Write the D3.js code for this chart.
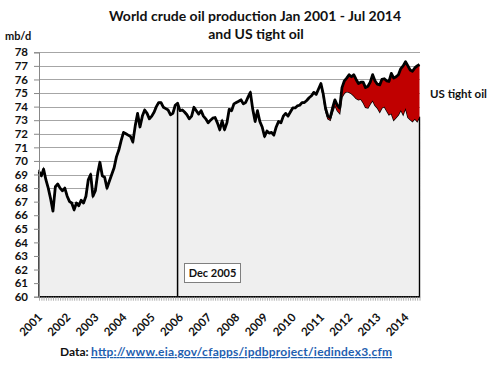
<!DOCTYPE html>
<html>
<head>
<meta charset="utf-8">
<script src="https://cdn.jsdelivr.net/npm/d3@7"></script>
<style>
  body { margin: 0; background: #fff; }
  text { font-family: Lato, "Open Sans", sans-serif; font-weight: bold; fill: #111; }
</style>
</head>
<body>
<div id="chart"></div>
<script>
// world crude oil production, mb/d, monthly Jan 2001 .. Jul 2014
var worldOil = [
  69.2, 68.9, 69.4, 68.6, 68.0, 67.2, 66.3, 68.1, 68.3, 68.0, 67.8, 68.0,
  67.4, 67.0, 66.9, 66.4, 66.9, 66.7, 67.1, 66.9, 67.4, 68.6, 69.0, 67.4,
  67.8, 69.1, 69.9, 68.9, 68.8, 68.0, 68.5, 69.0, 69.5, 70.3, 70.8, 71.5,
  72.1, 72.0, 71.9, 71.8, 71.4, 72.6, 73.5, 72.5, 73.3, 73.75, 73.5, 73.1,
  73.3, 73.6, 74.0, 74.3, 74.3, 73.95, 73.85, 73.75, 73.4, 73.5, 74.1, 74.25,
  73.7, 73.75, 73.6, 73.4, 73.1, 73.3, 73.95, 73.7, 73.45, 73.7, 73.3, 73.1,
  72.8, 73.0, 73.15, 73.2, 72.8, 72.3, 72.95, 72.3, 72.8, 73.8, 73.7, 74.2,
  74.3, 74.4, 74.5, 74.2, 74.3, 74.7, 75.05, 73.8, 72.9, 73.7, 72.9, 72.5,
  71.8, 72.2, 72.05, 72.1, 71.9, 72.5, 72.9, 72.8, 73.3, 73.5, 73.3, 73.6,
  73.9, 73.9, 74.05, 74.1, 74.3, 74.3, 74.45, 74.65, 74.8, 75.05, 74.9, 75.3,
  75.7, 74.9, 73.9, 73.3, 73.2, 73.9, 74.5, 74.1, 73.9, 75.4, 75.9, 76.1,
  76.35, 76.2, 76.35, 76.0, 75.7, 75.8, 75.8, 75.4, 75.5, 75.8, 76.35, 75.9,
  75.65, 75.6, 76.0, 76.05, 75.9, 75.85, 76.45, 76.1, 76.2, 76.35, 76.8, 77.0,
  77.3, 77.0, 76.7, 76.6, 76.85, 77.0, 77.1
];

// US tight oil, mb/d, monthly Jan 2011 .. Jul 2014
var tightOil = [
  0.1, 0.15, 0.2, 0.2, 0.2, 0.3, 0.4, 0.4, 0.4, 0.7, 0.9, 1.0,
  1.3, 1.25, 1.55, 1.4, 1.2, 1.25, 1.5, 1.45, 1.6, 1.6, 1.9, 1.8,
  1.75, 2.0, 2.1, 2.05, 2.2, 2.45, 2.95, 3.1, 3.0, 2.95, 3.05, 3.6,
  3.4, 3.8, 3.65, 3.7, 3.75, 4.1, 3.85
];

var yTicks = [60, 61, 62, 63, 64, 65, 66, 67, 68, 69, 70, 71, 72, 73, 74, 75, 76, 77, 78];
var yearLabels = ["2001", "2002", "2003", "2004", "2005", "2006", "2007",
                  "2008", "2009", "2010", "2011", "2012", "2013", "2014"];
var markerLabel = "Dec 2005";

var W = 500, H = 369;
var svg = d3.select("#chart").append("svg")
    .attr("width", W)
    .attr("height", H);

var months = d3.timeMonth.range(new Date(2001, 0, 1), new Date(2014, 7, 1));
var tightStart = new Date(2011, 0, 1);
var data = months.map(function (d, i) {
    var k = d3.timeMonth.count(tightStart, d);
    var t = (k >= 0 && k < tightOil.length) ? tightOil[k] : 0;
    return { date: d, total: worldOil[i], tight: t, lower: worldOil[i] - t };
});

var x = d3.scaleTime()
    .domain([months[0], months[months.length - 1]])
    .range([39, 419.5]);

var y = d3.scaleLinear()
    .domain([60, 78])
    .range([296.7, 52.3]);

// gridlines
svg.append("g")
    .selectAll("line")
    .data(yTicks)
    .enter()
    .append("line")
    .attr("x1", 39)
    .attr("x2", 420)
    .attr("y1", function (d) { return Math.round(y(d)) + 0.5; })
    .attr("y2", function (d) { return Math.round(y(d)) + 0.5; })
    .attr("stroke", "#a6a6a6")
    .attr("stroke-width", 1);

// world minus tight oil
var lowerArea = d3.area()
    .x(function (d) { return x(d.date); })
    .y0(y(60))
    .y1(function (d) { return y(d.lower); });

svg.append("path")
    .datum(data)
    .attr("d", lowerArea)
    .attr("fill", "#efefef")
    .attr("stroke", "#000")
    .attr("stroke-width", 1.4);

// tight oil band
var tightData = data.filter(function (d) { return d.date >= tightStart; });
var tightArea = d3.area()
    .x(function (d) { return x(d.date); })
    .y0(function (d) { return y(d.lower); })
    .y1(function (d) { return y(d.total); });

svg.append("path")
    .datum(tightData)
    .attr("d", tightArea)
    .attr("fill", "#c00000");

// total line
var totalLine = d3.line()
    .x(function (d) { return x(d.date); })
    .y(function (d) { return y(d.total); });

svg.append("path")
    .datum(data)
    .attr("d", totalLine)
    .attr("fill", "none")
    .attr("stroke", "#000")
    .attr("stroke-width", 2.8)
    .attr("stroke-linejoin", "round");

// Dec 2005 marker
var markDate = new Date(2005, 11, 1);
var markRow = data.find(function (d) { return +d.date === +markDate; });
svg.append("line")
    .attr("x1", x(markDate))
    .attr("x2", x(markDate))
    .attr("y1", y(markRow.total))
    .attr("y2", y(60))
    .attr("stroke", "#000")
    .attr("stroke-width", 1.5);

svg.append("rect")
    .attr("x", 184.5)
    .attr("y", 263.5)
    .attr("width", 56)
    .attr("height", 19)
    .attr("fill", "#fff")
    .attr("stroke", "#7f7f7f");

svg.append("text")
    .attr("x", 212.5)
    .attr("y", 277)
    .attr("text-anchor", "middle")
    .style("font-size", "11px")
    .text(markerLabel);

// y axis
var yAxis = svg.append("g")
    .attr("transform", "translate(39,0)")
    .call(d3.axisLeft(y).tickValues(yTicks).tickSize(5).tickPadding(6).tickFormat(d3.format("d")));
yAxis.select(".domain").attr("stroke", "#888");
yAxis.selectAll(".tick line").attr("stroke", "#888");
yAxis.selectAll("text")
    .style("font-size", "11.5px")
    .style("font-family", "Lato, sans-serif")
    .style("font-weight", "bold")
    .attr("fill", "#111");

// x axis: monthly minor ticks
var xAxis = svg.append("g")
    .attr("transform", "translate(0," + y(60) + ")")
    .call(d3.axisBottom(x).tickValues(months).tickSize(4).tickFormat(""));
xAxis.select(".domain").remove();
xAxis.selectAll(".tick line").attr("stroke", "#999").attr("stroke-width", 0.8);

// year labels
var years = yearLabels.map(function (s) { return new Date(+s, 0, 1); });
svg.append("g")
    .selectAll("text")
    .data(years)
    .enter()
    .append("text")
    .attr("text-anchor", "end")
    .attr("transform", function (d) { return "translate(" + (x(d) + 4) + ",318) rotate(-45)"; })
    .style("font-size", "11.5px")
    .text(function (d, i) { return yearLabels[i]; });

// titles and labels
svg.append("text")
    .attr("x", 255)
    .attr("y", 21)
    .attr("text-anchor", "middle")
    .style("font-size", "14px")
    .text("World crude oil production Jan 2001 - Jul 2014");

svg.append("text")
    .attr("x", 256)
    .attr("y", 39)
    .attr("text-anchor", "middle")
    .style("font-size", "14px")
    .text("and US tight oil");

svg.append("text")
    .attr("x", 5)
    .attr("y", 40)
    .style("font-size", "11px")
    .text("mb/d");

svg.append("text")
    .attr("x", 430)
    .attr("y", 98)
    .style("font-size", "11.5px")
    .text("US tight oil");

var foot = svg.append("text")
    .attr("x", 60)
    .attr("y", 356)
    .style("font-size", "12px");
foot.append("tspan").text("Data: ");
foot.append("tspan")
    .attr("x", 91)
    .attr("textLength", 301)
    .attr("fill", "#1f5fb0")
    .style("fill", "#1f5fb0")
    .style("text-decoration", "underline")
    .text("http://www.eia.gov/cfapps/ipdbproject/iedindex3.cfm");
</script>
</body>
</html>
